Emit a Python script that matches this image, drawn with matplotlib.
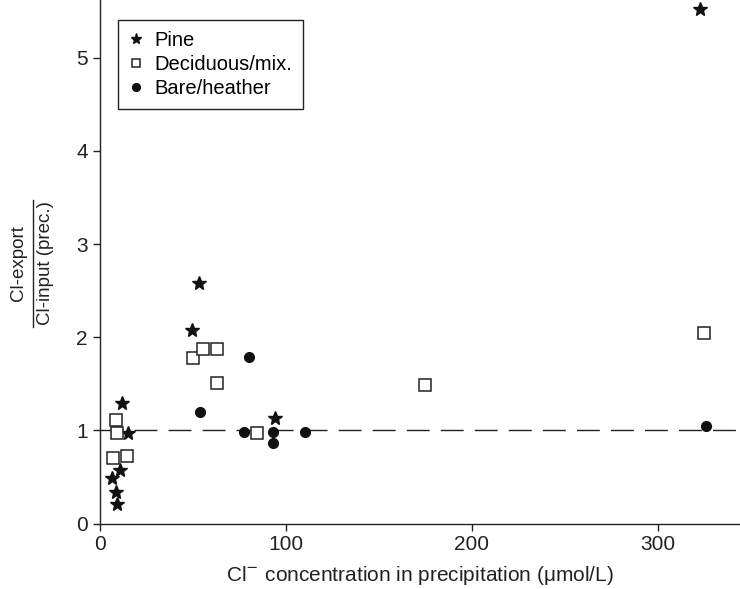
import numpy as np
import matplotlib.pyplot as plt
from matplotlib.lines import Line2D

plt.rcParams.update({
    'font.family': ['Liberation Sans', 'DejaVu Sans'],
    'font.size': 15,
    'axes.linewidth': 1.0,
    'xtick.direction': 'out',
    'ytick.direction': 'out',
})

# Cl- concentration in precipitation (umol/L) vs export/input ratio
pine_x = [11.9, 15.3, 11.0, 6.6, 8.7, 9.2, 49.7, 53.4, 94.3, 322.6]
pine_y = [1.29, 0.97, 0.58, 0.49, 0.34, 0.21, 2.08, 2.58, 1.13, 5.52]

decid_x = [8.9, 9.2, 7.3, 14.8, 50.2, 55.6, 63.1, 63.1, 84.6, 174.8, 324.7]
decid_y = [1.11, 0.97, 0.70, 0.73, 1.78, 1.87, 1.87, 1.51, 0.97, 1.49, 2.05]

bare_x = [54.0, 80.2, 77.6, 93.2, 93.2, 110.4, 325.8]
bare_y = [1.20, 1.79, 0.98, 0.98, 0.86, 0.98, 1.05]

fig = plt.figure(figsize=(7.4, 5.89), dpi=100)
ax = fig.add_axes([0.1345, 0.111, 0.8655, 0.889])

ax.axhline(1.0, color='#222222', lw=1.0, linestyle=(0, (16.5, 8)), zorder=1)

ax.plot(pine_x, pine_y, linestyle='none', marker='*', ms=10, color='#111111',
        label='Pine', zorder=3)
ax.plot(decid_x, decid_y, linestyle='none', marker='s', ms=8, mfc='white',
        mec='#222222', mew=1.1, label='Deciduous/mix.', zorder=3)
ax.plot(bare_x, bare_y, linestyle='none', marker='o', ms=7, color='#111111',
        label='Bare/heather', zorder=3)

ax.set_xlim(0, 344)
ax.set_ylim(0, 5.62)
ax.set_xticks([0, 100, 200, 300])
ax.set_yticks([0, 1, 2, 3, 4, 5])
ax.tick_params(length=5, width=1.0, colors='#222222', labelcolor='#222222',
               labelsize=15)
for side in ['top', 'right']:
    ax.spines[side].set_visible(False)
for side in ['left', 'bottom']:
    ax.spines[side].set_color('#222222')

ax.set_xlabel('Cl$^{-}$ concentration in precipitation (μmol/L)', color='#222222',
              labelpad=7, fontsize=15)

# y label drawn as a fraction
fig.text(18 / 740, 0.553, 'Cl-export', rotation=90, ha='center', va='center',
         color='#222222', fontsize=13.5)
fig.text(45 / 740, 0.553, 'Cl-input (prec.)', rotation=90, ha='center', va='center',
         color='#222222', fontsize=13.5)
fig.add_artist(Line2D([33 / 740, 33 / 740], [(589 - 327) / 589, (589 - 200) / 589],
                      transform=fig.transFigure, color='#222222', lw=1.0))

leg = ax.legend(loc='upper left', bbox_to_anchor=(0.029, 0.962), borderaxespad=0,
                fancybox=False, edgecolor='#222222', framealpha=1,
                handlelength=0.7, handletextpad=0.55, borderpad=0.55,
                labelspacing=0.25, fontsize=14.5, markerscale=0.8)
leg.get_frame().set_linewidth(1.0)

fig.savefig('out.png', dpi=100)
